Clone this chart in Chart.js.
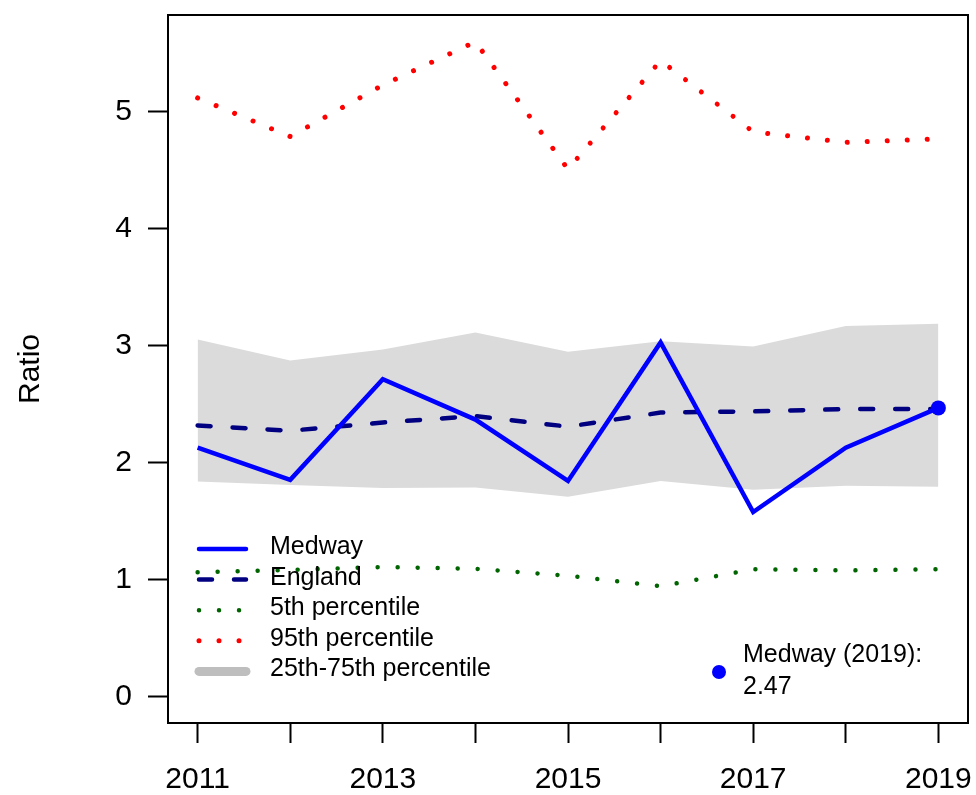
<!DOCTYPE html>
<html>
<head>
<meta charset="utf-8">
<script src="https://cdn.jsdelivr.net/npm/chart.js@4"></script>
<style>
  html, body { margin: 0; padding: 0; background: #fff; }
</style>
</head>
<body>
<canvas id="ratioChart" width="976" height="795"></canvas>
<script>
const years = [2011, 2012, 2013, 2014, 2015, 2016, 2017, 2018, 2019];
const medway = [2.13, 1.855, 2.715, 2.37, 1.845, 3.03, 1.58, 2.13, 2.47];
const england = [2.32, 2.275, 2.345, 2.40, 2.31, 2.43, 2.44, 2.46, 2.46];
const pct5 = [1.065, 1.085, 1.11, 1.095, 1.035, 0.945, 1.09, 1.08, 1.09];
const pct95 = [5.12, 4.79, 5.23, 5.6, 4.51, 5.44, 4.83, 4.74, 4.77];
const pct25 = [1.84, 1.81, 1.785, 1.79, 1.71, 1.845, 1.77, 1.805, 1.795];
const pct75 = [3.055, 2.875, 2.97, 3.115, 2.95, 3.04, 2.995, 3.17, 3.19];
const yTicks = [0, 1, 2, 3, 4, 5];
const xLabelYears = [2011, 2013, 2015, 2017, 2019];

const FONT = '"Liberation Sans", Arial, sans-serif';
const pts = arr => years.map((x, i) => ({ x, y: arr[i] }));

const legendItems = [
  { label: 'Medway', color: '#0000FF', width: 4.5, dash: [] },
  { label: 'England', color: '#000080', width: 4.5, dash: [13, 22] },
  { label: '5th percentile', color: '#006400', width: 4.5, dash: [0.01, 20] },
  { label: '95th percentile', color: '#FF0000', width: 5, dash: [0.01, 20] },
  { label: '25th-75th percentile', color: '#BEBEBE', width: 9, dash: [] }
];

// box, legend and the end-value note
const overlay = {
  id: 'overlay',
  afterDraw(chart) {
    const { ctx, chartArea: a } = chart;
    ctx.save();
    ctx.strokeStyle = '#000';
    ctx.lineWidth = 2;
    ctx.setLineDash([]);
    ctx.strokeRect(a.left, a.top, a.right - a.left, a.bottom - a.top);

    ctx.font = '25px ' + FONT;
    ctx.fillStyle = '#000';
    ctx.textBaseline = 'alphabetic';
    ctx.textAlign = 'left';
    legendItems.forEach((it, i) => {
      const y = a.bottom - 174 + i * 30.6;
      ctx.beginPath();
      ctx.strokeStyle = it.color;
      ctx.lineWidth = it.width;
      ctx.lineCap = 'round';
      ctx.setLineDash(it.dash);
      ctx.moveTo(a.left + 31, y);
      ctx.lineTo(a.left + 78, y);
      ctx.stroke();
      ctx.fillText(it.label, a.left + 102, y + 5);
    });

    ctx.setLineDash([]);
    const last = medway.length - 1;
    ctx.fillStyle = '#0000FF';
    ctx.beginPath();
    ctx.arc(a.right - 249, a.bottom - 51, 7, 0, Math.PI * 2);
    ctx.fill();
    ctx.fillStyle = '#000';
    ctx.fillText('Medway (' + years[last] + '):', a.right - 225, a.bottom - 61);
    ctx.fillText(medway[last].toFixed(2), a.right - 225, a.bottom - 29);
    ctx.restore();
  }
};

const ctx = document.getElementById('ratioChart').getContext('2d');

new Chart(ctx, {
  type: 'line',
  data: {
    datasets: [
      {
        data: pts(medway),
        borderColor: '#0000FF',
        borderWidth: 4.5,
        pointRadius: medway.map((v, i) => i === medway.length - 1 ? 7.5 : 0),
        pointBackgroundColor: '#0000FF',
        pointBorderWidth: 0
      },
      {
        data: pts(england),
        borderColor: '#000080',
        borderWidth: 4.5,
        borderDash: [13, 22],
        borderCapStyle: 'round'
      },
      {
        data: pts(pct5),
        borderColor: '#006400',
        borderWidth: 4.5,
        borderDash: [0.01, 20],
        borderCapStyle: 'round'
      },
      {
        data: pts(pct95),
        borderColor: '#FF0000',
        borderWidth: 5,
        borderDash: [0.01, 20],
        borderCapStyle: 'round'
      },
      {
        data: pts(pct75),
        borderColor: 'transparent',
        borderWidth: 0,
        backgroundColor: '#DBDBDB',
        fill: '+1'
      },
      {
        data: pts(pct25),
        borderColor: 'transparent',
        borderWidth: 0,
        fill: false
      }
    ]
  },
  options: {
    responsive: false,
    animation: false,
    layout: { padding: { top: 15, right: 8, left: 0, bottom: 0 } },
    elements: { line: { tension: 0 }, point: { radius: 0, hoverRadius: 0 } },
    plugins: { legend: { display: false }, tooltip: { enabled: false } },
    scales: {
      x: {
        type: 'linear',
        min: 2010.68,
        max: 2019.32,
        afterBuildTicks: s => { s.ticks = years.map(v => ({ value: v })); },
        afterFit: s => { s.height = 72; s.paddingLeft = 0; s.paddingRight = 0; },
        border: { display: false },
        grid: { drawOnChartArea: false, drawTicks: true, tickLength: 20, tickWidth: 2, tickColor: '#000' },
        ticks: {
          autoSkip: false,
          maxRotation: 0,
          padding: 19,
          color: '#000',
          font: { family: FONT, size: 30 },
          callback: v => xLabelYears.includes(v) ? String(v) : ''
        }
      },
      y: {
        min: -0.224,
        max: 5.829,
        afterBuildTicks: s => { s.ticks = yTicks.map(v => ({ value: v })); },
        afterFit: s => { s.width = 168; s.paddingTop = 0; s.paddingBottom = 0; },
        border: { display: false },
        grid: { drawOnChartArea: false, drawTicks: true, tickLength: 20, tickWidth: 2, tickColor: '#000' },
        ticks: {
          padding: 16,
          color: '#000',
          font: { family: FONT, size: 30 },
          callback: v => String(v)
        },
        title: {
          display: true,
          text: 'Ratio',
          color: '#000',
          font: { family: FONT, size: 30 },
          padding: { top: 13, bottom: 0 }
        }
      }
    }
  },
  plugins: [overlay]
});
</script>
</body>
</html>
